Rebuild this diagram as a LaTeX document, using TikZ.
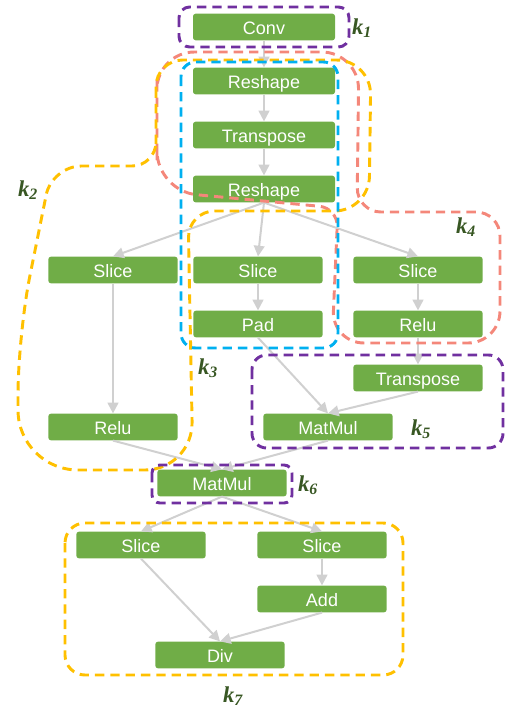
\documentclass[tikz,border=0pt]{standalone}
\usepackage{fontspec}
\setmainfont{Liberation Sans}
\newfontfamily\labfont{Liberation Serif}
\usetikzlibrary{arrows.meta}
\definecolor{gbox}{HTML}{70AD47}
\definecolor{garr}{HTML}{D0D0D0}
\definecolor{kpur}{HTML}{7030A0}
\definecolor{kyel}{HTML}{FFC000}
\definecolor{kblu}{HTML}{00B0F0}
\definecolor{ksal}{HTML}{F4877A}
\definecolor{klab}{HTML}{385723}
\begin{document}
\begin{tikzpicture}[x=0.75pt,y=-0.75pt,
 box/.style={fill=gbox, text=white, rounded corners=2pt, minimum height=20pt, inner sep=0pt, text height=12pt, text depth=1.5pt, font=\fontsize{13.5}{15}\selectfont},
 wide/.style={box, minimum width=106.5pt},
 narrow/.style={box, minimum width=97pt},
 arr/.style={draw=garr, line width=1.5pt, -{Triangle[length=8pt,width=8pt]}},
 grp/.style={line width=2.2pt, dash pattern=on 7pt off 4.5pt},
 klabel/.style={text=klab, inner sep=0pt, font=\labfont\bfseries\itshape\fontsize{17}{19}\selectfont}]
\useasboundingbox (0,0) rectangle (510,711);
% nodes
\node[wide] (conv) at (264,27) {Conv};
\node[wide] (rs1) at (264,81) {Reshape};
\node[wide] (tp1) at (264,135) {Transpose};
\node[wide] (rs2) at (264,189) {Reshape};
\node[narrow] (slL) at (113,270) {Slice};
\node[narrow] (slM) at (258,270) {Slice};
\node[narrow] (slR) at (418,270) {Slice};
\node[narrow] (pad) at (258,324) {Pad};
\node[narrow] (reluR) at (418,324) {Relu};
\node[narrow] (tp2) at (418,378) {Transpose};
\node[narrow] (mmR) at (328,427) {MatMul};
\node[narrow] (reluL) at (113,427) {Relu};
\node[narrow] (mm) at (222,483) {MatMul};
\node[narrow] (sbL) at (141,545) {Slice};
\node[narrow] (sbR) at (322,545) {Slice};
\node[narrow] (add) at (322,599) {Add};
\node[narrow] (div) at (220,655) {Div};
% connectors
\draw[arr] (conv.south) -- (rs1.north);
\draw[arr] (rs1.south) -- (tp1.north);
\draw[arr] (tp1.south) -- (rs2.north);
\draw[arr] (rs2.south) -- (slL.north);
\draw[arr] (rs2.south) -- (slM.north);
\draw[arr] (rs2.south) -- (slR.north);
\draw[arr] (slL.south) -- (reluL.north);
\draw[arr] (slM.south) -- (pad.north);
\draw[arr] (slR.south) -- (reluR.north);
\draw[arr] (reluR.south) -- (tp2.north);
\draw[arr] (pad.south) -- (mmR.north);
\draw[arr] (tp2.south) -- (mmR.north);
\draw[arr] (reluL.south) -- (mm.north);
\draw[arr] (mmR.south) -- (mm.north);
\draw[arr] (mm.south) -- (sbL.north);
\draw[arr] (mm.south) -- (sbR.north);
\draw[arr] (sbR.south) -- (add.north);
\draw[arr] (sbL.south) -- (div.north);
\draw[arr] (add.south) -- (div.north);
% groups
\draw[grp, draw=kpur, rounded corners=8pt] (179,7) rectangle (349,47);
\draw[grp, draw=ksal, rounded corners=28pt] (157,120) -- (157,52) -- (359,52) [rounded corners=18pt] -- (357,212) -- (500,212) [rounded corners=24pt] -- (500,343) -- (332,343) [rounded corners=14pt] -- (338,208) [rounded corners=30pt] -- (157,191) -- cycle;
\draw[grp, draw=kyel, rounded corners=20pt] (156,120) -- (156,60) [rounded corners=26pt] -- (371,60) -- (369,211) [rounded corners=20pt] -- (188,211) [rounded corners=36pt] -- (193,470) [rounded corners=45pt] -- (18,470) [rounded corners=45pt] -- (18,335) [rounded corners=22pt] -- (52,166) [rounded corners=18pt] -- (156,166) -- cycle;
\draw[grp, draw=kblu, rounded corners=11pt] (181,62) rectangle (338,348);
\draw[grp, draw=kpur, rounded corners=11pt] (252,355) rectangle (503,448);
\draw[grp, draw=kpur, rounded corners=6pt] (152,465) rectangle (292,503);
\draw[grp, draw=kyel, rounded corners=15pt] (65,523) rectangle (403,675);
% labels
\node[klabel] (k1) at (362,28) {k\textsubscript{1}};
\node[klabel] (k2) at (28,190) {k\textsubscript{2}};
\node[klabel] (k3) at (208,368) {k\textsubscript{3}};
\node[klabel] (k4) at (466,227) {k\textsubscript{4}};
\node[klabel] (k5) at (421,429) {k\textsubscript{5}};
\node[klabel] (k6) at (308,485) {k\textsubscript{6}};
\node[klabel] (k7) at (233,696) {k\textsubscript{7}};
\end{tikzpicture}
\end{document}
